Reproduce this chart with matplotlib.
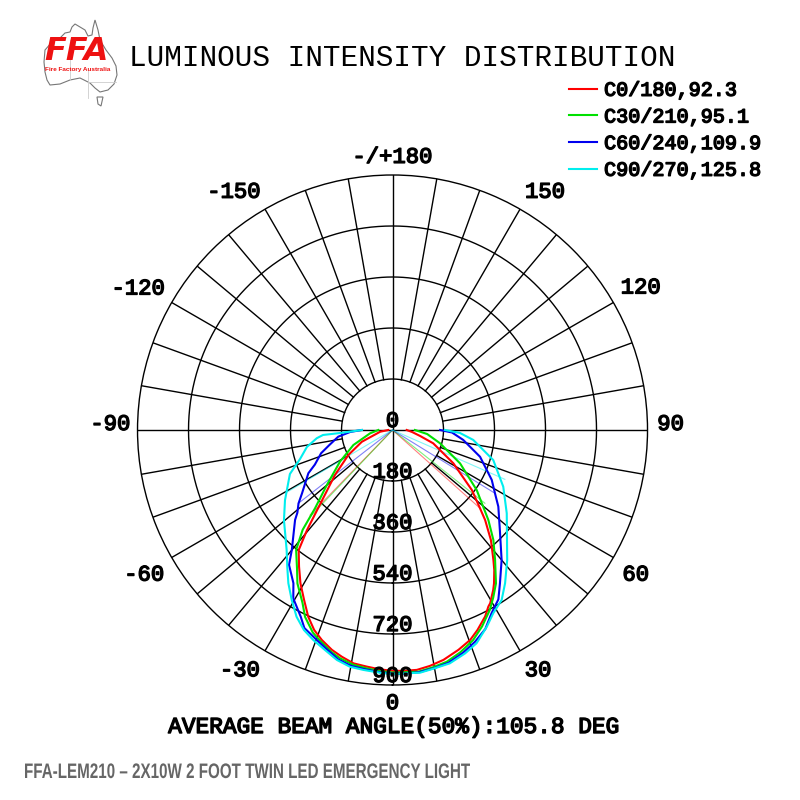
import numpy as np
import matplotlib
matplotlib.use("Agg")
import matplotlib.pyplot as plt
import matplotlib.patheffects as pe
from matplotlib.patches import Polygon, PathPatch
from matplotlib.lines import Line2D
from matplotlib.textpath import TextPath
from matplotlib.font_manager import FontProperties
from matplotlib.transforms import Affine2D

# -----------------------------------------------------------------------------
# Data (gamma angle in deg, negative = left half; intensity in cd)
# -----------------------------------------------------------------------------

c0_ang = [-90, -82, -69, -60.5, -52, -45.5, -42.5, -40.5, -38, -34.4, -31, -27.5, -24.3,
          -21.4, -18.6, -15.4, -12.6, -9.5, -6.2, -3, 0,
          2.5, 5.8, 9, 12.5, 16.7, 20.3, 23, 26.4, 28.5, 29.4, 32.2, 33.5, 36, 37.8, 41.8,
          45.8, 48.2, 52.9, 61.3, 71.9, 77.7, 84, 90]
c0_cd = [15, 44, 116, 179, 258, 343, 407, 465, 538, 584, 631, 676, 723,
         758, 782, 805, 820, 835, 840, 846, 850,
         851, 851, 843, 831, 810, 790, 767, 735, 709, 702, 667, 649, 611, 581, 521,
         456, 414, 351, 245, 151, 100, 70, 50]

c30_ang = [-90, -81.6, -69, -59, -50, -44.7, -42, -38.8, -34.5, -31.8, -27.5, -25.1, -21.5,
           -19.2, -15.5, -12.9, -9.5, -6.3, -3, 0,
           2.5, 6.1, 9.5, 13.2, 17, 21, 24.5, 28.4, 31, 34, 38.3, 42.5, 46.8, 54.5, 63.7,
           74.4, 83.4, 90]
c30_cd = [50, 80, 148, 216, 303, 389, 474, 543, 595, 637, 688, 728, 768,
          785, 812, 827, 840, 846, 852, 856,
          856, 858, 850, 840, 820, 794, 762, 722, 690, 653, 584, 527, 464, 365, 266,
          174, 123, 79]

c60_ang = [-90, -87.3, -83, -76.5, -72, -66, -62.8, -55, -52, -49, -47.3, -40, -37.5, -32.9,
           -30.5, -26.2, -24, -19.8, -17, -13.3, -10, -6.6, -3, 0,
           3, 6.3, 10, 13.5, 17.5, 21.3, 25, 28.4, 32, 35, 40, 47, 54.1, 58.3, 63.3, 73, 82,
           87.6, 90]
c60_cd = [109, 150, 193, 230, 265, 300, 334, 390, 421, 445, 468, 553, 600, 644,
          690, 734, 765, 788, 806, 832, 845, 850, 856, 860,
          861, 860, 853, 845, 825, 802, 775, 735, 705, 661, 599, 518, 461, 425, 392, 323, 252,
          210, 168]

c90_ang = [-90, -86.7, -85.9, -83.8, -78.8, -72.6, -66.8, -56.9, -50.3, -41.4, -37.6, -34.2,
           -30.7, -27.2, -23.9, -20.7, -17.1, -13.6, -10.2, -6.9, -2.9, 0,
           2.9, 6.5, 10.1, 13.8, 18, 21.5, 25.6, 28.8, 32.7, 36.3, 41.4, 53.9, 62.9, 73.4, 83,
           87.5, 90]
c90_cd = [108, 186, 246, 269, 308, 342, 394, 453, 498, 565, 609, 654,
          697, 741, 772, 792, 812, 835, 849, 853, 858, 862,
          860, 862, 854, 848, 829, 809, 770, 738, 713, 671, 612, 499, 439, 371, 287,
          238, 185]

series_names = ["C0/180,92.3", "C30/210,95.1", "C60/240,109.9", "C90/270,125.8"]
series_colors = ["#ff0000", "#00e000", "#0000ee", "#00eeee"]

# half-intensity points (beam edges) per curve
beam_left_ang = [-44.1, -43.5, -52.1, -59.5]
beam_left_cd = [418, 418, 421, 430]
beam_right_ang = [48.2, 51.6, 58.3, 66.3]
beam_right_cd = [414, 416, 425, 433]

ring_vals = [180, 360, 540, 720, 900]
radial_labels = [0, 180, 360, 540, 720, 900]
angle_ticks = [0, 30, 60, 90, 120, 150, 180, -150, -120, -90, -60, -30]
angle_labels = ["0", "30", "60", "90", "120", "150", "-/+180",
                "-150", "-120", "-90", "-60", "-30"]
# pixel nudges of the angle labels (x, y up)
label_nudge = [(0, 4), (8, 0), (5, -5), (3, 8), (10, 7), (15, 2), (0, 0),
               (-21, 2), (-16, 6), (-7, 8), (-10, -5), (-15, 0)]

MONO = ["Liberation Mono", "DejaVu Sans Mono"]
BOLD = [pe.withStroke(linewidth=1.0, foreground="black")]

# -----------------------------------------------------------------------------
# Figure
# -----------------------------------------------------------------------------

fig = plt.figure(figsize=(8, 8), dpi=100)
ax = fig.add_axes([0.1719, 0.14375, 0.6375, 0.6375], projection="polar")
ax.set_theta_zero_location("S")
ax.set_theta_direction(1)
ax.set_ylim(0, 900)
ax.grid(False)
ax.set_xticks([])
ax.set_yticks([])
ax.spines["polar"].set_color("black")
ax.spines["polar"].set_linewidth(1.0)

# grid rings and spokes
full = np.linspace(0, 2 * np.pi, 721)
for rv in ring_vals[:-1]:
    ax.plot(full, np.full_like(full, rv), color="black", lw=1.0, zorder=1)
for deg in range(0, 360, 10):
    t = np.radians(deg)
    r0 = 0 if deg % 90 == 0 else ring_vals[0]
    ax.plot([t, t], [r0, 900], color="black", lw=1.0, zorder=1)

# curves
curves = [(c0_ang, c0_cd), (c30_ang, c30_cd), (c60_ang, c60_cd), (c90_ang, c90_cd)]
for (ang, cd), name, col in zip(curves, series_names, series_colors):
    ax.plot(np.radians(ang), cd, color=col, lw=1.5, label=name, zorder=3,
            solid_joinstyle="round")

# beam edge lines
for i, col in enumerate(series_colors):
    for a, v in [(beam_left_ang[i], beam_left_cd[i]), (beam_right_ang[i], beam_right_cd[i])]:
        ax.plot([0, np.radians(a)], [0, v], color=col, lw=0.8, alpha=0.5, zorder=2)

# angle labels
for deg, lab, (nx, ny) in zip(angle_ticks, angle_labels, label_nudge):
    ax.annotate(lab, xy=(np.radians(deg), 971), xytext=(nx, ny),
                textcoords="offset pixels", ha="center", va="center_baseline",
                fontsize=16, family=MONO, annotation_clip=False, path_effects=BOLD)

# radial labels along 0 deg
for rv in radial_labels:
    ax.annotate(str(rv), xy=(0, rv), xytext=(0, 3), textcoords="offset pixels",
                ha="center", va="baseline", fontsize=16, family=MONO, zorder=4,
                path_effects=BOLD)

leg = ax.legend(loc="upper left", bbox_to_anchor=(0.711, 0.899),
                bbox_transform=fig.transFigure, frameon=False, borderpad=0,
                borderaxespad=0, handlelength=1.4, handletextpad=0.35,
                labelspacing=0.38, prop={"family": MONO, "size": 14.5})
for txt in leg.get_texts():
    txt.set_path_effects(BOLD)

# titles
fig.text(0.161, 1 - 57.5 / 800, "LUMINOUS INTENSITY DISTRIBUTION", ha="left",
         va="center", fontsize=21.2, family=MONO)
fig.text(393 / 800, 1 - 724 / 800, "AVERAGE BEAM ANGLE(50%):105.8 DEG",
         ha="center", va="center_baseline", fontsize=16.4, family=MONO, path_effects=BOLD)

# footer, squeezed to a narrow face
footer = "FFA-LEM210 \u2013 2X10W 2 FOOT TWIN LED EMERGENCY LIGHT"
tp = TextPath((0, 0), footer, size=21,
              prop=FontProperties(family="Liberation Sans", weight="bold"))
ext = tp.get_extents()
sx = 445 / ext.width
foot_tf = (Affine2D().scale(sx, 1.0).translate(25 - ext.x0 * sx, 800 - 778)
           + Affine2D().scale(1 / 800) + fig.transFigure)
fig.add_artist(PathPatch(tp, facecolor="#666666", edgecolor="none", transform=foot_tf))

# logo: outline of Australia with FFA lettering
aus_px = [(45, 50), (52, 42), (60, 38), (65, 33), (70, 32), (72, 27), (75, 24), (80, 27),
          (85, 30), (88, 36), (92, 35), (93, 28), (95, 20), (98, 30), (100, 40), (106, 50),
          (112, 58), (116, 66), (117, 75), (114, 84), (108, 90), (100, 92), (95, 88),
          (90, 83), (80, 78), (70, 80), (60, 84), (50, 85), (47, 80), (45, 72), (44, 62)]
tas_px = [(97, 97), (103, 97), (101, 106), (98, 104)]
for pts in (aus_px, tas_px):
    fig.add_artist(Polygon([(x / 800, 1 - y / 800) for x, y in pts], closed=True,
                           facecolor="white", edgecolor="#777777", lw=0.8,
                           transform=fig.transFigure))
for seg in ([(88, 70), (88, 98)], [(88, 82), (116, 82)], [(70, 80), (70, 40)]):
    fig.add_artist(Line2D([seg[0][0] / 800, seg[1][0] / 800],
                          [1 - seg[0][1] / 800, 1 - seg[1][1] / 800],
                          color="#cccccc", lw=0.6, transform=fig.transFigure))
fig.text(44 / 800, 1 - 51 / 800, "FFA", ha="left", va="center", fontsize=23,
         fontweight="bold", style="italic", color="#ee1111", family="DejaVu Sans")
fig.text(45 / 800, 1 - 70 / 800, "Fire Factory Australia", ha="left", va="center",
         fontsize=4.6, fontweight="bold", color="#ee1111", family="Liberation Sans")

fig.savefig("out.png", dpi=100, facecolor="white")
